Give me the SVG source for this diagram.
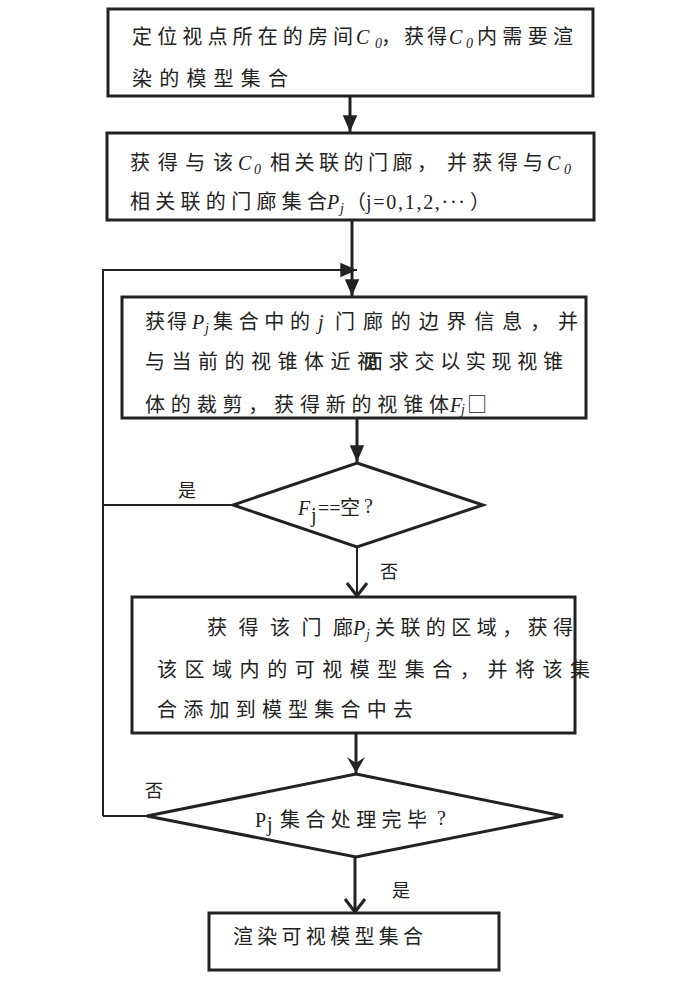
<svg xmlns="http://www.w3.org/2000/svg" width="700" height="986" viewBox="0 0 700 986">
<style>
.box{fill:#fff;stroke:#222;stroke-width:3}
.cn{font-family:"Noto Sans CJK SC","Liberation Serif",sans-serif;font-size:20px;fill:#222}
.lb{font-family:"Noto Sans CJK SC",sans-serif;font-size:18px;fill:#222}
.it{font-family:"Liberation Serif",serif;font-style:italic;font-size:20px;fill:#222}
.sub{font-family:"Liberation Serif",serif;font-style:italic;font-size:14px;fill:#222}
.rm{font-family:"Liberation Serif",serif;font-size:20px;fill:#222}
.ln{fill:none;stroke:#222;stroke-width:3}
.thin{fill:none;stroke:#222;stroke-width:2}
</style>
<defs>
<marker id="tri" markerUnits="userSpaceOnUse" markerWidth="20" markerHeight="20" viewBox="-16 -8 18 16" refX="0" refY="0" orient="auto">
<path d="M-15,-6.5 L0,0 L-15,6.5 Z" fill="#222"/>
</marker>
<marker id="vee" markerUnits="userSpaceOnUse" markerWidth="24" markerHeight="24" viewBox="-14 -12 16 24" refX="0" refY="0" orient="auto">
<path d="M-13,-10 L0,0 L-13,10" fill="none" stroke="#222" stroke-width="3"/>
</marker>
<marker id="barb" markerUnits="userSpaceOnUse" markerWidth="24" markerHeight="24" viewBox="-18 -12 20 24" refX="0" refY="0" orient="auto">
<path d="M-16,-9 L0,0 L-16,9 L-10,0 Z" fill="#222"/>
</marker>
</defs>

<g id="connectors">
<line class="ln" x1="350" y1="97" x2="350" y2="132" marker-end="url(#tri)"/>
<line class="ln" x1="352" y1="220" x2="352" y2="296" marker-end="url(#tri)"/>
<polyline class="thin" points="103,816 103,270 357,270" marker-end="url(#tri)"/>
<line class="thin" x1="233" y1="505" x2="104" y2="505" stroke-width="1.5"/>
<line class="thin" x1="147" y1="816" x2="103" y2="816"/>
<line class="ln" x1="357" y1="418" x2="357" y2="462" marker-end="url(#tri)"/>
<line class="thin" x1="357" y1="547" x2="357" y2="596" marker-end="url(#vee)"/>
<line class="ln" x1="356" y1="733" x2="356" y2="773" marker-end="url(#barb)"/>
<line class="ln" x1="355" y1="857" x2="355" y2="912" stroke-width="4" marker-end="url(#vee)"/>
<text class="lb" x="178" y="497">是</text>
<text class="lb" x="380" y="578">否</text>
<text class="lb" x="145" y="797">否</text>
<text class="lb" x="392" y="897">是</text>
</g>

<g id="node1">
<rect class="box" x="108" y="9" width="485" height="87"/>
<text class="cn" x="132" y="44" textLength="221" lengthAdjust="spacing">定位视点所在的房间</text>
<text class="it" x="356" y="44">C</text><text class="sub" x="375" y="48">0</text>
<text class="cn" x="381" y="44" textLength="66" lengthAdjust="spacing">，获得</text>
<text class="it" x="449" y="44">C</text><text class="sub" x="466" y="48">0</text>
<text class="cn" x="477" y="44" textLength="96" lengthAdjust="spacing">内需要渲</text>
<text class="cn" x="132" y="86" textLength="156" lengthAdjust="spacing">染的模型集合</text>
</g>

<g id="node2">
<rect class="box" x="107" y="133" width="487" height="87"/>
<text class="cn" x="130" y="170" textLength="103" lengthAdjust="spacing">获得与该</text>
<text class="it" x="238" y="170">C</text><text class="sub" x="254" y="174">0</text>
<text class="cn" x="270" y="170" textLength="167" lengthAdjust="spacing">相关联的门廊，</text>
<text class="cn" x="447" y="170" textLength="96" lengthAdjust="spacing">并获得与</text>
<text class="it" x="547" y="170">C</text><text class="sub" x="564" y="174">0</text>
<text class="cn" x="130" y="209" textLength="197" lengthAdjust="spacing">相关联的门廊集合</text>
<text class="it" x="327" y="209">P</text><text class="sub" x="340" y="213">j</text>
<text class="cn" x="346" y="209">（</text>
<text class="rm" x="366" y="209" textLength="99" lengthAdjust="spacing">j=0,1,2,···</text>
<text class="cn" x="470" y="209">）</text>
</g>

<g id="node3">
<rect class="box" x="122" y="297" width="464" height="121"/>
<text class="cn" x="145" y="329" textLength="42" lengthAdjust="spacing">获得</text>
<text class="it" x="192" y="329">P</text><text class="sub" x="205" y="333">j</text>
<text class="cn" x="213" y="329" textLength="97" lengthAdjust="spacing">集合中的</text>
<text class="it" x="318" y="329">j</text>
<text class="cn" x="335" y="329" textLength="243" lengthAdjust="spacing">门廊的边界信息，并</text>
<text class="cn" x="145" y="369" textLength="232" lengthAdjust="spacing">与当前的视锥体近视</text>
<text class="cn" x="363" y="369" textLength="200" lengthAdjust="spacing">面求交以实现视锥</text>
<text class="cn" x="145" y="412" textLength="304" lengthAdjust="spacing">体的裁剪，获得新的视锥体</text>
<text class="it" x="450" y="412">F</text><text class="sub" x="461" y="414">j</text>
<text class="cn" x="467" y="412" font-size="16">□</text>
</g>

<g id="decision1">
<polygon class="box" points="357,463 483,505 357,547 233,505"/>
<text class="it" x="298" y="515" font-size="24">F</text>
<text class="rm" x="311" y="522" font-size="15">j</text>
<text class="rm" x="318" y="515">==</text>
<text class="cn" x="340" y="515">空</text>
<text class="rm" x="364" y="513">?</text>
</g>

<g id="node4">
<rect class="box" x="132" y="597" width="443" height="136"/>
<text class="cn" x="207" y="635" textLength="146" lengthAdjust="spacing">获得该门廊</text>
<text class="it" x="353" y="635">P</text><text class="sub" x="366" y="639">j</text>
<text class="cn" x="375" y="635" textLength="198" lengthAdjust="spacing">关联的区域，获得</text>
<text class="cn" x="157" y="677" textLength="433" lengthAdjust="spacing">该区域内的可视模型集合，并将该集</text>
<text class="cn" x="157" y="717" textLength="256" lengthAdjust="spacing">合添加到模型集合中去</text>
</g>

<g id="decision2">
<polygon class="box" points="356,774 563,816 356,857 147,816"/>
<text class="rm" x="255" y="827">P</text>
<text class="rm" x="267" y="831" font-size="14">j</text>
<text class="cn" x="280" y="827" textLength="147" lengthAdjust="spacing">集合处理完毕</text>
<text class="rm" x="437" y="825">?</text>
</g>

<g id="node5">
<rect class="box" x="209" y="913" width="290" height="57"/>
<text class="cn" x="233" y="944" textLength="190" lengthAdjust="spacing">渲染可视模型集合</text>
</g>
</svg>
